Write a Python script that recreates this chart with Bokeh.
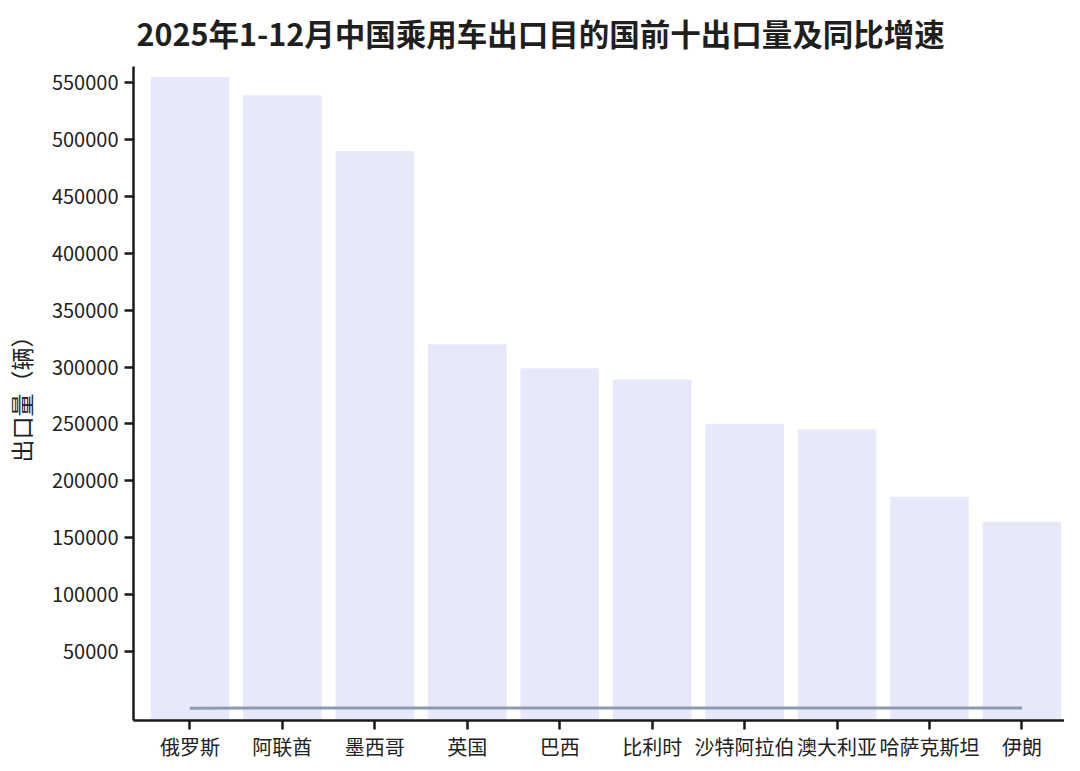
from bokeh.plotting import figure
from bokeh.models import Range1d, FixedTicker, ColumnDataSource, BasicTickFormatter
from bokeh.embed import file_html
from bokeh.resources import INLINE

countries = ["俄罗斯", "阿联酋", "墨西哥", "英国", "巴西", "比利时", "沙特阿拉伯", "澳大利亚", "哈萨克斯坦", "伊朗"]
exports = [555000, 539000, 490000, 320000, 299000, 289000, 250000, 245000, 186000, 164000]
growth = [-40.0, 58.0, 10.0, 18.0, 45.0, 30.0, 60.0, 12.0, 70.0, 40.0]
y_ticks = [50000, 100000, 150000, 200000, 250000, 300000, 350000, 400000, 450000, 500000, 550000]

Y_START, Y_END = -10900, 564300
idx = list(range(len(countries)))

src = ColumnDataSource(dict(x=idx, top=exports, growth=growth,
                            bottom=[Y_START] * len(countries)))

p = figure(width=1064, height=763, output_backend="svg", toolbar_location=None,
           x_range=Range1d(-0.61, 9.46), y_range=Range1d(Y_START, Y_END),
           min_border_left=125, min_border_right=0, min_border_top=59,
           min_border_bottom=30)

p.title.text = "2025年1-12月中国乘用车出口目的国前十出口量及同比增速"
p.title.text_font = "Noto Sans CJK SC"
p.title.text_font_size = "30.5px"
p.title.text_font_style = "bold"
p.title.text_color = "#1f1f1f"
p.title.align = "left"
p.title.vertical_align = "top"
p.title.offset = 3
p.title.standoff = 20

p.vbar(x="x", top="top", bottom="bottom", width=0.85, source=src,
       fill_color="#E8E8FB", line_color=None)
p.line(x="x", y="growth", source=src, line_color="#8C9BB3", line_width=3)

p.grid.visible = False
p.outline_line_color = None
p.background_fill_color = "white"
p.border_fill_color = "white"

p.xaxis.ticker = FixedTicker(ticks=idx)
p.xaxis.major_label_overrides = {i: c for i, c in zip(idx, countries)}
p.yaxis.ticker = FixedTicker(ticks=y_ticks)
p.yaxis.formatter = BasicTickFormatter(use_scientific=False)
p.yaxis.axis_label = "出口量（辆）"

for ax in (p.xaxis[0], p.yaxis[0]):
    ax.axis_line_color = "#1a1a1a"
    ax.axis_line_width = 2.5
    ax.major_tick_line_color = "#1a1a1a"
    ax.major_tick_line_width = 2.5
    ax.major_tick_out = 9
    ax.major_tick_in = 0
    ax.minor_tick_line_color = None
    ax.major_label_text_font = "Noto Sans CJK SC"
    ax.major_label_text_font_size = "20px"
    ax.major_label_text_color = "#222222"
    ax.major_label_standoff = 6

p.xaxis.major_label_standoff = 2

p.yaxis.axis_label_text_font = "Noto Sans CJK SC"
p.yaxis.axis_label_text_font_size = "23px"
p.yaxis.axis_label_text_font_style = "normal"
p.yaxis.axis_label_text_color = "#222222"
p.yaxis.axis_label_standoff = 11

open("out.html", "w").write(file_html(p, INLINE))
